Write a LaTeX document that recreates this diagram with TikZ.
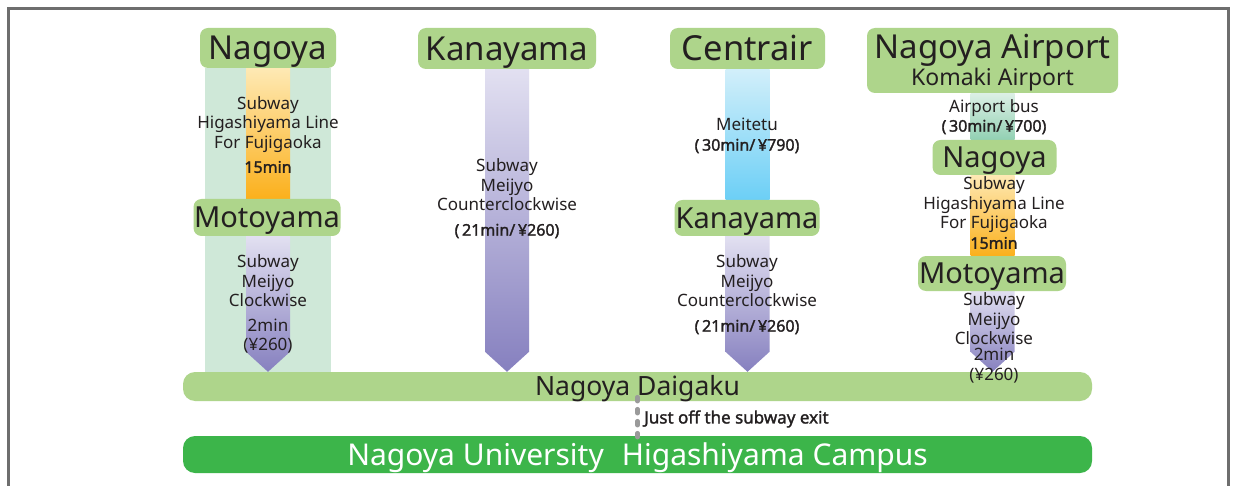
\documentclass[tikz,border=0pt]{standalone}
\usepackage{fontspec}
\setmainfont{Noto Sans}
\newfontfamily\heavysans{Noto Sans}[FakeBold=1.6]
\usetikzlibrary{calc}
\pgfdeclarelayer{bg}
\pgfsetlayers{bg,main}
\definecolor{stgreen}{HTML}{AED58B}
\definecolor{bgmint}{HTML}{CFE8D8}
\definecolor{campus}{HTML}{3CB54A}
\definecolor{orlight}{HTML}{FEE9B4}
\definecolor{ordark}{HTML}{FBB01C}
\definecolor{pulight}{HTML}{E2E0F1}
\definecolor{pudark}{HTML}{8680BF}
\definecolor{bllight}{HTML}{D2EFFA}
\definecolor{bldark}{HTML}{6CCFF6}
\definecolor{gnlight}{HTML}{DCF0E5}
\definecolor{gndark}{HTML}{92D0B3}
\definecolor{txt}{HTML}{231F20}
\definecolor{frame}{HTML}{6E6E6E}
\definecolor{dashgray}{HTML}{9A9A9A}
\tikzset{
  station/.style={fill=stgreen, rounded corners=8pt, inner sep=0pt, text=txt,
    font=\fontsize{33}{36}\selectfont, text height=23.6pt, text depth=0pt},
  substation/.style={station, font=\fontsize{29}{32}\selectfont, text height=20.7pt},
  info/.style={align=center, text=txt, inner sep=0pt, font=\fontsize{17}{19.5}\selectfont},
  infobold/.style={info, font=\fontsize{16}{19}\selectfont\heavysans},
  barbox/.style={rounded corners=12pt, inner sep=0pt, text depth=0pt},
}
\begin{document}
\begin{tikzpicture}[x=1pt,y=-1pt]
\useasboundingbox (0,0) rectangle (1233,486);
% frame
\draw[frame, line width=3pt] (8.5,495) -- (8.5,8.5) -- (1228,8.5) -- (1228,495);

% station boxes
\node[station, minimum width=136pt, minimum height=40pt] (n1) at (268,48) {Nagoya};
\node[substation, minimum width=147pt, minimum height=37pt] (m1) at (267,217.5) {Motoyama};
\node[station, minimum width=178pt, minimum height=41pt] (k2) at (507,48.5) {Kanayama};
\node[station, minimum width=155pt, minimum height=41pt, font=\fontsize{34.5}{36}\selectfont, text height=24.6pt] (c3) at (747.5,48.5) {Centrair};
\node[substation, minimum width=145pt, minimum height=36pt] (k3) at (747,218) {Kanayama};
\node[fill=stgreen, rounded corners=8pt, inner sep=0pt, text=txt, font=\fontsize{33}{36}\selectfont,
  minimum width=251pt, minimum height=65pt] (a4) at (992.5,60.5)
  {\raisebox{-4pt}[\height][\depth]{\begin{tabular}{@{}c@{}}Nagoya Airport\\[-9pt]{\fontsize{23}{26}\selectfont Komaki Airport}\end{tabular}}};
\node[substation, minimum width=124pt, minimum height=35pt] (n4) at (994.5,157.5) {Nagoya};
\node[substation, minimum width=148pt, minimum height=35pt] (m4) at (992,273.5) {Motoyama};

% bars
\node[barbox, fill=stgreen, minimum width=909pt, minimum height=29pt, text=txt,
  font=\fontsize{26.5}{28}\selectfont, text height=18.9pt] (bar) at (637.5,386.5) {Nagoya Daigaku};
\node[barbox, fill=campus, minimum width=909pt, minimum height=37pt, text=white,
  font=\fontsize{30}{32}\selectfont, text height=21.4pt] (campusbar) at (637.5,454.5)
  {Nagoya University\hspace{0.6em}Higashiyama Campus};

% route strips (background layer)
\begin{pgfonlayer}{bg}
  \fill[white] (0,0) rectangle (1233,486);
  % column 1 background
  \fill[bgmint] ($(n1.south)+(-63,0)$) rectangle ($(bar.north -| n1.south)+(63,0)$);
  \shade[top color=orlight, bottom color=ordark]
    ($(n1.south)+(-22,0)$) rectangle ($(m1.north -| n1.south)+(22,0)$);
  \shade[top color=pulight, bottom color=pudark]
    ($(m1.south -| n1.south)+(-22,0)$) -- ($(m1.south -| n1.south)+(22,0)$)
    -- ($(bar.north -| n1.south)+(22,-20)$) -- (bar.north -| n1.south)
    -- ($(bar.north -| n1.south)+(-22,-20)$) -- cycle;
  % column 2
  \shade[top color=pulight, bottom color=pudark]
    ($(k2.south)+(-22,0)$) -- ($(k2.south)+(22,0)$)
    -- ($(bar.north -| k2.south)+(22,-20)$) -- (bar.north -| k2.south)
    -- ($(bar.north -| k2.south)+(-22,-20)$) -- cycle;
  % column 3
  \shade[top color=bllight, bottom color=bldark]
    ($(c3.south)+(-22,0)$) rectangle ($(k3.north -| c3.south)+(22,0)$);
  \shade[top color=pulight, bottom color=pudark]
    ($(k3.south -| c3.south)+(-22,0)$) -- ($(k3.south -| c3.south)+(22,0)$)
    -- ($(bar.north -| c3.south)+(22,-20)$) -- (bar.north -| c3.south)
    -- ($(bar.north -| c3.south)+(-22,-20)$) -- cycle;
  % column 4
  \shade[top color=gnlight, bottom color=gndark]
    ($(a4.south)+(-22,0)$) rectangle ($(n4.north -| a4.south)+(22,0)$);
  \shade[top color=orlight, bottom color=ordark]
    ($(n4.south -| a4.south)+(-22,0)$) rectangle ($(m4.north -| a4.south)+(22,0)$);
  \shade[top color=pulight, bottom color=pudark]
    ($(m4.south -| a4.south)+(-22,0)$) -- ($(m4.south -| a4.south)+(22,0)$)
    -- ($(bar.north -| a4.south)+(22,-20)$) -- (bar.north -| a4.south)
    -- ($(bar.north -| a4.south)+(-22,-20)$) -- cycle;
\end{pgfonlayer}

% texts column 1
\node[info] (t1a) at (268,124.5) {Subway\\Higashiyama Line\\For Fujigaoka};
\node[infobold] (t1b) at (268,167) {15min};
\node[info] (t1c) at (268,281) {Subway\\Meijyo\\Clockwise};
\node[info] (t1d) at (268,336) {2min\\(¥260)};
% column 2
\node[info] (t2a) at (507,185) {Subway\\Meijyo\\Counterclockwise};
\node[infobold] (t2b) at (507,231) {(\,21min/\,¥260)};
% column 3
\node[info] (t3a) at (747,124.5) {Meitetu};
\node[infobold] (t3b) at (747,146) {(\,30min/\,¥790)};
\node[info] (t3c) at (747,281) {Subway\\Meijyo\\Counterclockwise};
\node[infobold] (t3d) at (747,327) {(\,21min/\,¥260)};
% column 4
\node[info] (t4a) at (994,108.5) {Airport bus};
\node[infobold] (t4b) at (994,127) {(\,30min/\,¥700)};
\node[info] (t4c) at (994,205) {Subway\\Higashiyama Line\\For Fujigaoka};
\node[infobold] (t4d) at (994,243) {15min};
\node[info] (t4e) at (994,319) {Subway\\Meijyo\\Clockwise};
\node[info] (t4f) at (994,365.5) {2min\\(¥260)};

% walk connector
\draw[dashgray, line width=4.5pt, line cap=round, dash pattern=on 4pt off 8pt]
  ([yshift=4pt]bar.south) -- ([yshift=-2pt]campusbar.north);
\node[anchor=west, text=txt, inner sep=0pt, font=\fontsize{17}{19}\selectfont\heavysans]
  (walk) at (644,419) {Just off the subway exit};
\end{tikzpicture}
\end{document}
